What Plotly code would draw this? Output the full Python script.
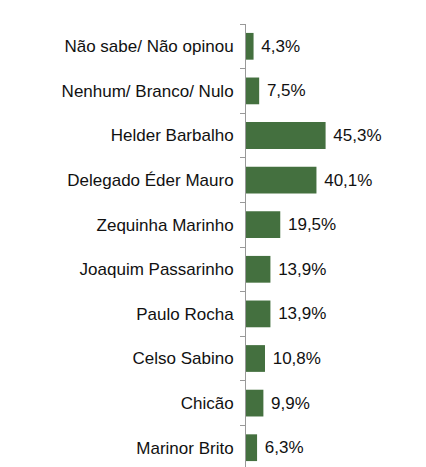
import plotly.graph_objects as go

categories = ["Não sabe/ Não opinou", "Nenhum/ Branco/ Nulo", "Helder Barbalho", "Delegado Éder Mauro",
              "Zequinha Marinho", "Joaquim Passarinho", "Paulo Rocha", "Celso Sabino", "Chicão", "Marinor Brito"]
values = [4.3, 7.5, 45.3, 40.1, 19.5, 13.9, 13.9, 10.8, 9.9, 6.3]
labels = [f" {v:.1f}%".replace(".", ",") for v in values]

fig = go.Figure(go.Bar(
    y=categories, x=values, orientation="h",
    text=labels, textposition="outside", cliponaxis=False,
    textfont=dict(size=17, color="#111"),
    marker=dict(color="#44703f", line=dict(width=0)),
    width=0.6,
))
fig.update_layout(
    width=426, height=467, margin=dict(l=238, r=0, t=16, b=5, autoexpand=False),
    plot_bgcolor="white", paper_bgcolor="white",
    font=dict(family="Liberation Sans, Arial", size=17, color="#111"),
    showlegend=False,
    xaxis=dict(range=[0, 107], visible=False),
    yaxis=dict(autorange="reversed", showline=True, linecolor="#999", linewidth=1,
               ticks="outside", tickson="boundaries", ticklen=5, tickcolor="#999",
               ticklabelstandoff=8, showgrid=False),
)
fig.write_html("out.html")
